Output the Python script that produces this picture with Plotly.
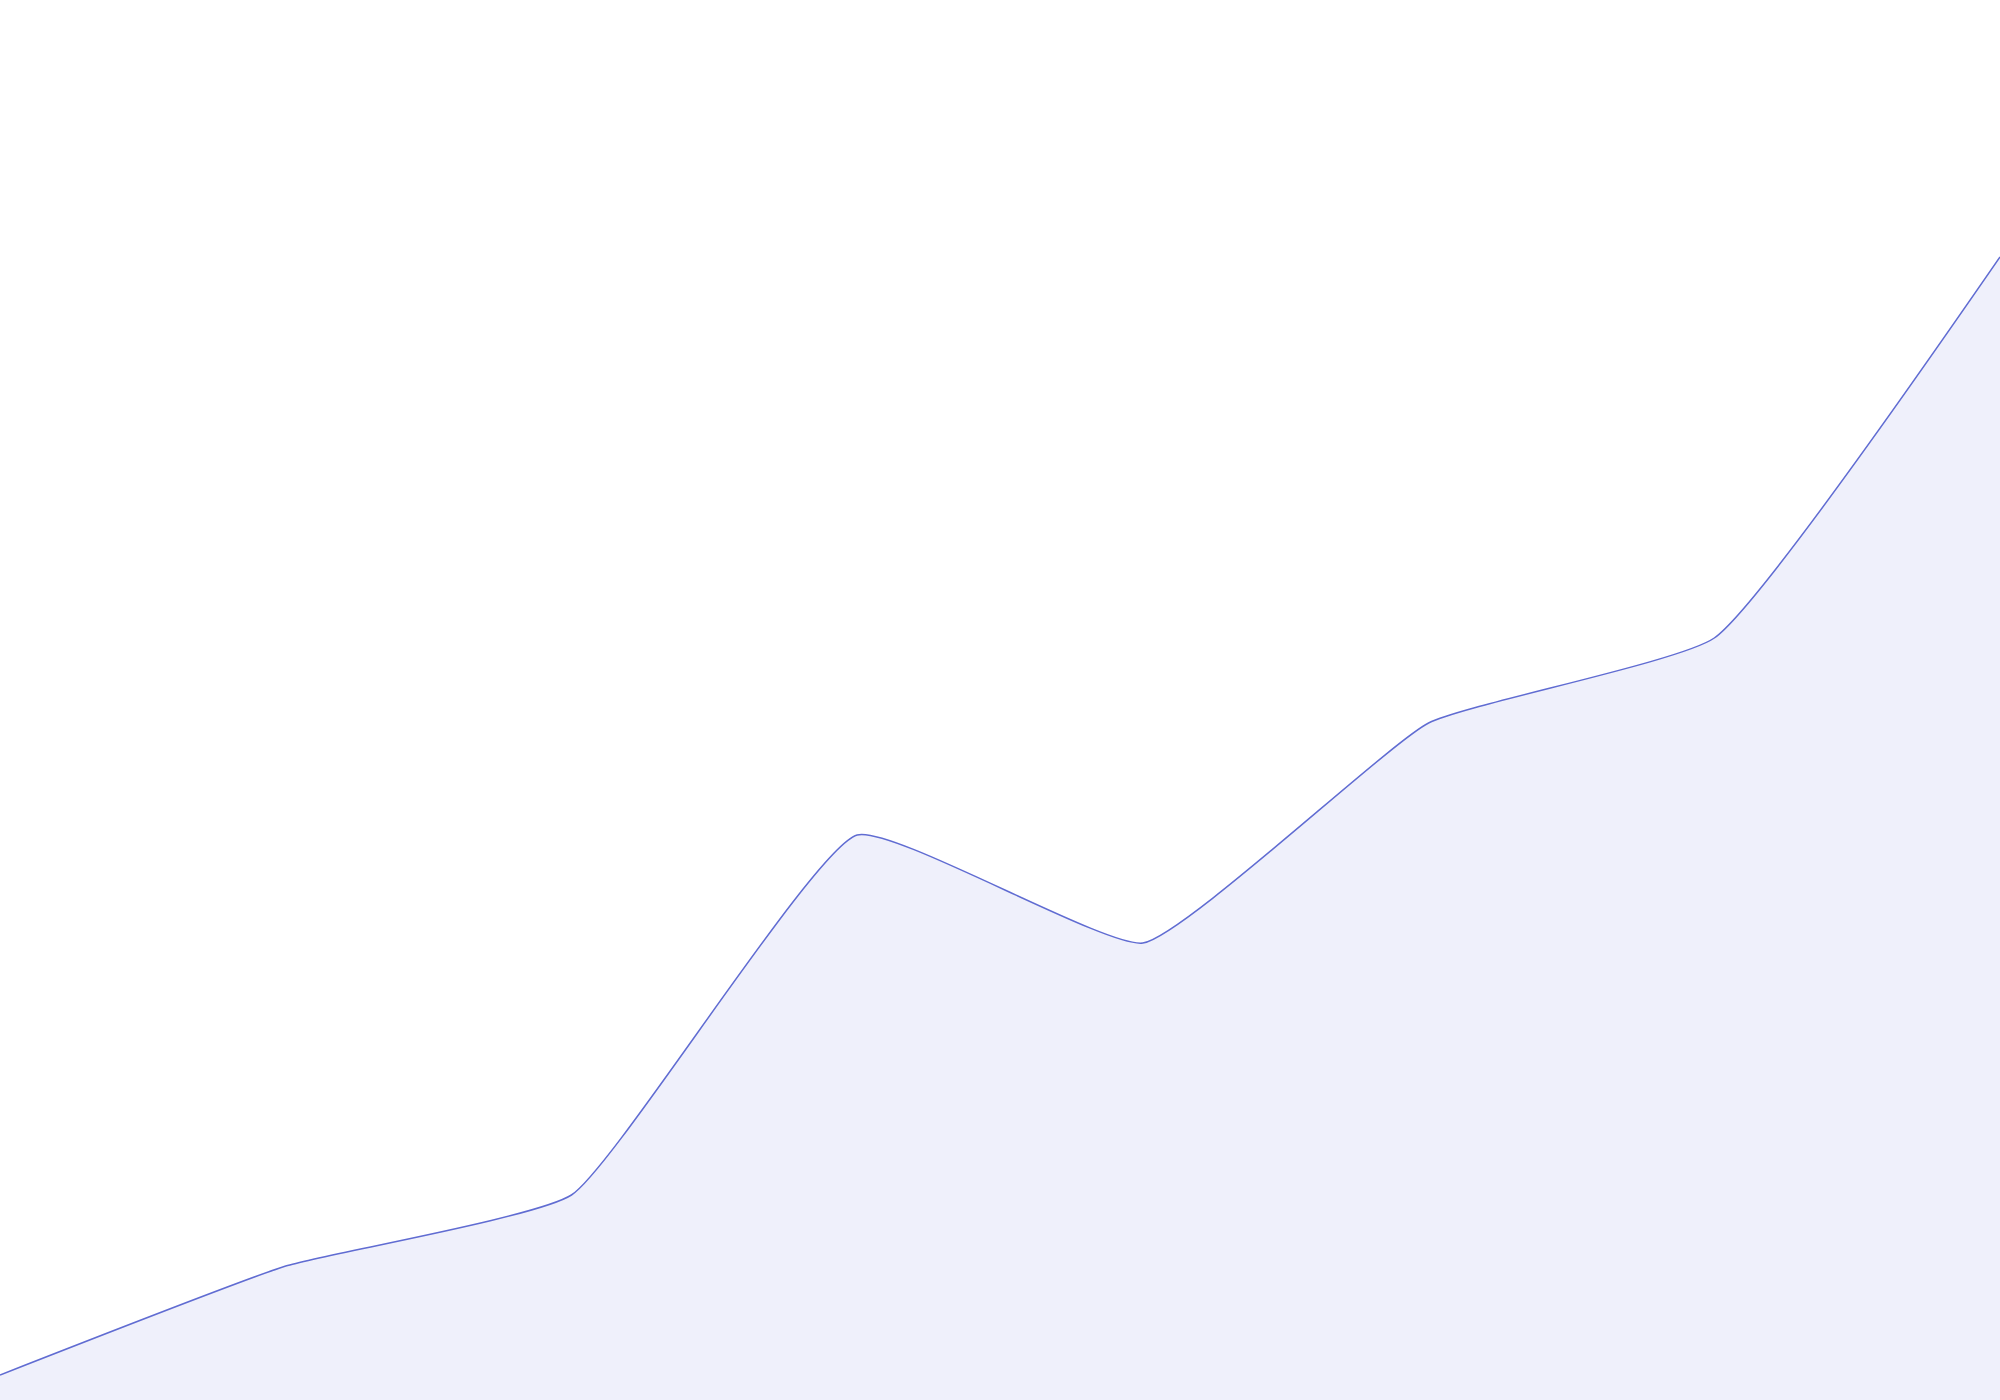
import plotly.graph_objects as go

# x positions (evenly spaced) and values
steps = [0, 1, 2, 3, 4, 5, 6, 7]
values = [25, 134, 205, 565, 457, 677, 762, 1143]

fig = go.Figure()
fig.add_trace(
    go.Scatter(
        x=steps,
        y=values,
        mode="lines",
        line=dict(color="#606cd2", width=1.5, shape="spline", smoothing=0.4),
        fill="tozeroy",
        fillcolor="rgba(96,108,220,0.1)",
        hoverinfo="skip",
    )
)

fig.update_layout(
    width=2000,
    height=1400,
    margin=dict(l=0, r=0, t=0, b=0),
    paper_bgcolor="white",
    plot_bgcolor="white",
    showlegend=False,
    xaxis=dict(visible=False, range=[0, 7], fixedrange=True),
    yaxis=dict(visible=False, range=[0, 1400], fixedrange=True),
)

# drop the page's default body margin so the chart sits at the corner
fig.write_html(
    "out.html",
    config={"displayModeBar": False},
    post_script="document.body.style.margin='0';document.body.style.overflow='hidden';",
)
